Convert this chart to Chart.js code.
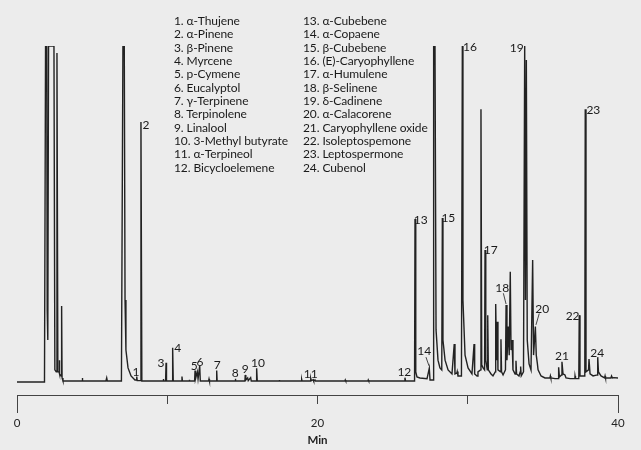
<!DOCTYPE html>
<html>
<head>
<meta charset="utf-8">
<script src="https://cdn.jsdelivr.net/npm/chart.js@4.4.1/dist/chart.umd.min.js"></script>
<style>
  html, body { margin: 0; padding: 0; background: #ececec; }
  #wrap { position: relative; width: 641px; height: 450px; overflow: hidden; background: #ececec; }
  canvas { position: absolute; left: 0; top: 0; }
  .col { position: absolute; top: 14px; font-family: Lato, "Open Sans", sans-serif; font-size: 12px;
         line-height: 13.33px; color: #1a1a1a; white-space: nowrap; letter-spacing: -0.1px; }
</style>
</head>
<body>
<div id="wrap">
  <canvas id="c" width="641" height="450"></canvas>
  <div class="col" id="col1" style="left:174px"></div>
  <div class="col" id="col2" style="left:303px"></div>
</div>
<script>
// ---- Chromatogram trace (retention time in min, relative signal) ----
const retentionTime = [
  0.00, 1.83, 1.90, 1.98, 2.01, 2.05, 2.10, 2.46, 2.52, 2.61, 2.66, 2.72, 2.80, 2.82, 2.84, 2.94, 2.97, 3.00, 3.06,
  4.33, 4.35, 4.37, 5.92, 5.97, 6.01, 6.95, 7.05, 7.14, 7.19, 7.25, 7.39, 7.59, 7.85, 7.94, 7.97, 8.00, 8.22, 8.25, 8.31,
  9.72, 9.74, 9.76, 9.89, 9.92, 9.95, 10.34, 10.36, 10.40, 10.96, 10.98, 11.01, 11.45, 11.47, 11.49,
  11.82, 11.85, 11.88, 12.00, 12.05, 12.16, 12.20, 12.75, 12.78, 12.81, 13.26, 13.29, 13.32,
  14.51, 14.53, 14.56, 15.17, 15.19, 15.23, 15.35, 15.39, 15.55, 15.59, 15.93, 15.95, 15.99,
  17.44, 17.46, 17.48, 18.94, 18.95, 18.97, 19.52, 19.55, 19.59, 19.72, 19.75, 19.83, 19.86,
  21.83, 21.85, 21.88, 23.36, 23.38, 23.41, 25.79, 25.82, 25.86,
  26.46, 26.49, 26.54, 26.62, 26.82, 27.29, 27.44, 27.49, 27.69, 27.73, 27.82, 27.89, 28.02, 28.15, 28.27,
  28.31, 28.35, 28.49, 28.69, 28.95, 29.10, 29.15, 29.28, 29.30, 29.35, 29.58, 29.64, 29.68, 29.82, 30.02,
  30.28, 30.42, 30.46, 30.62, 30.68, 30.85, 30.88, 30.93, 31.02, 31.12, 31.15, 31.20, 31.30, 31.33, 31.37,
  31.55, 31.68, 31.83, 31.86, 31.92, 31.97, 32.01, 32.18, 32.21, 32.25, 32.35, 32.51, 32.55, 32.61, 32.70,
  32.76, 32.83, 32.88, 32.95, 33.01, 33.15, 33.21, 33.25, 33.41, 33.49, 33.52, 33.56, 33.71, 33.79, 33.84,
  33.90, 33.96, 34.08, 34.21, 34.32, 34.38, 34.50, 34.56, 34.63, 34.68, 34.88, 35.14, 35.47, 35.50, 35.53,
  35.81, 36.02, 36.05, 36.10, 36.24, 36.27, 36.34, 36.47, 36.54, 36.81, 37.13, 37.14, 37.17, 37.39, 37.42,
  37.47, 37.79, 37.82, 37.87, 38.04, 38.07, 38.14, 38.34, 38.62, 38.65, 38.70, 38.87, 39.11, 39.14, 39.17,
  39.53, 39.57, 39.63, 39.73, 40.00
];
const signal = [
  0, 0, 100, 100, 21.4, 12.5, 100, 100, 3.6, 3.0, 97.9, 3.0, 3.0, 6.5, 2.4, 1.8, 22.6, 1.2, 0.3,
  0.3, 1.2, 0.3, 0.3, 1.2, 0.3, 0.3, 100, 100, 24.4, 9.5, 4.2, 1.8, 0.6, 0.6, 1.6, 0.4, 0.4, 77.4, 0.3,
  0.3, 0.9, 0.3, 0.3, 5.7, 0.3, 0.3, 10.2, 0.3, 0.3, 1.6, 0.3, 0.3, 0.7, 0.3,
  0.3, 3.4, 0.9, 3.0, 0.9, 4.8, 0.3, 0.3, 0.9, 0.3, 0.3, 3.4, 0.3,
  0.3, 1.0, 0.3, 0.3, 2.1, 0.6, 1.2, 0.4, 1.3, 0.3, 0.3, 4.1, 0.3,
  0.3, 0.6, 0.3, 0.3, 0.7, 0.3, 0.3, 1.1, 0.4, 0.7, 0.3, 0.6, 0.3,
  0.3, 0.6, 0.3, 0.3, 0.6, 0.3, 0.3, 1.3, 0.3,
  0.3, 48.5, 3.0, 1.5, 1.2, 1.0, 4.1, 0.6, 0.6, 100, 100, 15.5, 6.5, 4.2, 3.6,
  48.8, 12.5, 6.5, 3.6, 2.4, 11.3, 2.4, 2.7, 3.1, 1.8, 1.8, 100, 24.4, 8.0, 4.2,
  2.4, 11.3, 2.4, 1.8, 3.0, 3.6, 81.2, 5.1, 4.2, 3.6, 39.3, 6.5, 3.6, 19.9, 3.6,
  2.4, 1.8, 3.0, 23.2, 6.5, 17.9, 3.6, 3.0, 12.7, 3.0, 2.1, 3.6, 22.9, 6.5, 16.5,
  8.0, 32.8, 9.5, 12.5, 3.6, 2.4, 6.3, 2.4, 1.8, 3.0, 4.6, 1.8, 3.0, 100, 24.4,
  95.8, 12.5, 5.4, 3.6, 36.3, 8.0, 16.5, 8.0, 5.6, 3.6, 1.8, 1.2, 1.2, 1.8, 1.2,
  1.0, 1.0, 4.4, 1.5, 2.1, 6.0, 2.4, 2.1, 1.2, 1.0, 1.0, 1.8, 1.0, 1.0, 19.9,
  1.8, 1.8, 81.2, 3.0, 3.6, 6.8, 2.4, 1.8, 2.1, 7.4, 3.0, 1.8, 1.2, 1.8, 1.2,
  1.2, 1.8, 1.2, 1.3, 1.2
];

// ---- Peak labels ----
const peakNumbers = ['1','2','3','4','5','6','7','8','9','10','11','12','13','14','15','16','17','18','19','20','21','22','23','24'];
const labelTime   = [7.92, 8.59, 9.58, 10.70, 11.80, 12.18, 13.33, 14.53, 15.19, 16.04, 19.55, 25.78,
                     26.87, 27.11, 28.71, 30.15, 31.53, 32.30, 33.26, 34.96, 36.27, 36.98, 38.36, 38.62];
const labelSignal = [3.0, 76.5, 5.6, 10.2, 4.6, 6.0, 5.1, 2.6, 3.8, 5.7, 2.4, 3.0,
                     48.2, 9.2, 48.7, 99.8, 39.1, 27.9, 99.3, 21.7, 7.7, 19.7, 81.0, 8.7];
// leader lines for labels 14, 18, 20
const leaderFromTime   = [27.22, 32.37, 34.76];
const leaderFromSignal = [7.4, 26.4, 20.4];
const leaderToTime     = [27.42, 32.55, 34.54];
const leaderToSignal   = [4.8, 23.2, 17.0];

// ---- Compound list ----
const compoundsA = ['1. α-Thujene','2. α-Pinene','3. β-Pinene','4. Myrcene','5. p-Cymene','6. Eucalyptol',
  '7. γ-Terpinene','8. Terpinolene','9. Linalool','10. 3-Methyl butyrate','11. α-Terpineol','12. Bicycloelemene'];
const compoundsB = ['13. α-Cubebene','14. α-Copaene','15. β-Cubebene','16. (E)-Caryophyllene','17. α-Humulene',
  '18. β-Selinene','19. δ-Cadinene','20. α-Calacorene','21. Caryophyllene oxide','22. Isoleptospemone',
  '23. Leptospermone','24. Cubenol'];

// ---- Axis ticks ----
const xTicksLabelled = [0, 20, 40];

document.getElementById('col1').innerHTML = compoundsA.map(s => '<div>' + s + '</div>').join('');
document.getElementById('col2').innerHTML = compoundsB.map(s => '<div>' + s + '</div>').join('');

const points = retentionTime.map((t, i) => ({ x: t, y: signal[i] }));

const annotate = {
  id: 'annotate',
  afterDatasetsDraw(chart) {
    const { ctx, scales: { x, y }, chartArea } = chart;
    ctx.save();
    ctx.fillStyle = '#1a1a1a';
    ctx.font = '12px Lato, "Open Sans", sans-serif';
    ctx.textAlign = 'center';
    ctx.textBaseline = 'middle';
    peakNumbers.forEach((n, i) => {
      ctx.fillText(n, x.getPixelForValue(labelTime[i]), y.getPixelForValue(labelSignal[i]));
    });
    ctx.strokeStyle = '#333';
    ctx.lineWidth = 0.9;
    leaderFromTime.forEach((t, i) => {
      ctx.beginPath();
      ctx.moveTo(x.getPixelForValue(t), y.getPixelForValue(leaderFromSignal[i]));
      ctx.lineTo(x.getPixelForValue(leaderToTime[i]), y.getPixelForValue(leaderToSignal[i]));
      ctx.stroke();
    });
    // longer end ticks at axis limits
    ctx.strokeStyle = '#444';
    ctx.lineWidth = 1;
    [x.min, x.max].forEach(v => {
      const px = Math.round(x.getPixelForValue(v)) + 0.5;
      ctx.beginPath();
      ctx.moveTo(px, chartArea.bottom);
      ctx.lineTo(px, chartArea.bottom + 18);
      ctx.stroke();
    });
    ctx.restore();
  }
};

new Chart(document.getElementById('c'), {
  type: 'line',
  data: {
    datasets: [{
      data: points,
      borderColor: '#222222',
      borderWidth: 1.4,
      pointRadius: 0,
      tension: 0,
      fill: false
    }]
  },
  options: {
    responsive: false,
    animation: false,
    events: [],
    layout: { padding: { left: 17, right: 23, top: 46, bottom: 0 } },
    plugins: { legend: { display: false }, tooltip: { enabled: false } },
    scales: {
      x: {
        type: 'linear',
        min: 0, max: 40,
        afterFit: s => { s.height = 55; },
        border: { display: true, color: '#444', width: 1 },
        grid: { display: true, drawOnChartArea: false, drawTicks: true, tickLength: 9, color: '#444' },
        ticks: {
          stepSize: 10, autoSkip: false, maxRotation: 0, padding: 12,
          color: '#222', font: { family: 'Lato, "Open Sans", sans-serif', size: 11.5 },
          callback: v => xTicksLabelled.includes(v) ? String(v) : ''
        },
        title: {
          display: true, text: 'Min', color: '#222',
          font: { family: 'Lato, "Open Sans", sans-serif', size: 11.5, weight: 'bold' },
          padding: { top: 0, bottom: 3 }
        }
      },
      y: {
        display: false,
        min: -3.87, max: 100
      }
    }
  },
  plugins: [annotate]
});
</script>
</body>
</html>
